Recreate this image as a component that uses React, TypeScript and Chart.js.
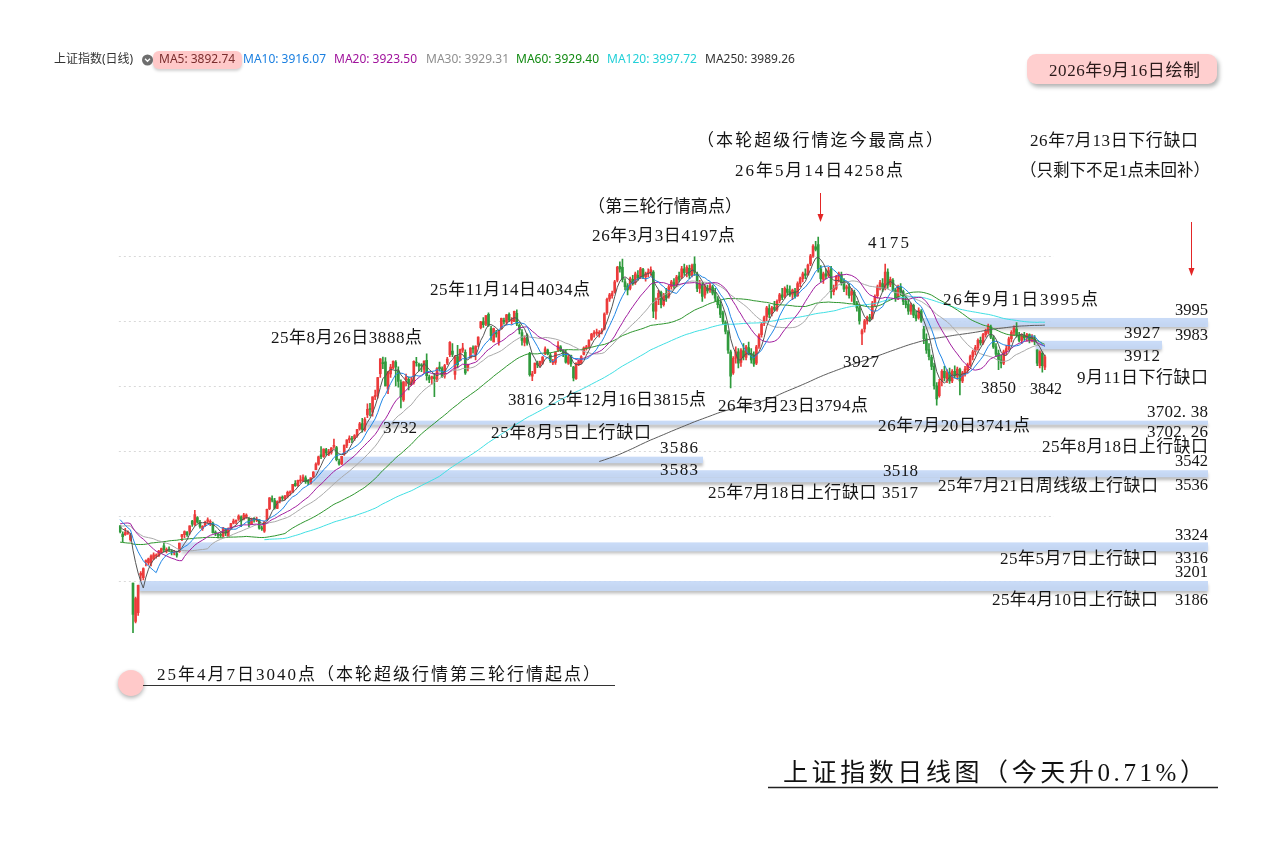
import { useEffect, useRef } from 'react';
import { Chart, registerables } from 'chart.js';
Chart.register(...registerables);

const W = 1273;
const H = 844;

// closes before the visible window (only used to warm up the moving averages)
const warmupCloses = [
  3368, 3352, 3393, 3394, 3398, 3400, 3407, 3352,
  3262, 3211, 3206, 3229, 3230, 3211, 3168, 3160, 3240, 3227, 3236, 3241, 3244, 3242, 3213, 3231, 3252, 3250,
  3229, 3270, 3303, 3322, 3318, 3346, 3333, 3346, 3355, 3324, 3351, 3350, 3379, 3373, 3346, 3380, 3388, 3320,
  3316, 3324, 3342, 3381, 3372, 3366, 3379, 3371, 3358, 3419, 3426, 3429, 3426, 3408, 3364, 3370, 3369, 3368, 3373,
];

// daily candles [open, high, low, close]
const m2503 = [[3369,3371,3348,3351.3],[3344,3351,3320,3335.8]];
const m2504 = [
  [3342,3362,3340,3348.4],[3346,3354,3343,3350.1],[3327,3346,3322,3342.0],[3193,3193,3040.7,3096.6],
  [3075,3150,3071,3145.5],[3102,3186.8,3094,3186.5],[3218,3229,3201,3223.6],[3210,3240,3203,3238.2],
  [3259,3265,3246,3262.8],[3255,3270,3249,3267.7],[3255,3280,3246,3276.0],[3268,3286,3265,3280.3],
  [3276,3283,3270,3276.7],[3277,3294,3275,3291.4],[3288,3301,3286,3299.8],[3308,3316,3290,3296.4],
  [3291,3302,3286,3297.3],[3296,3305,3290,3295.1],[3292,3296,3280,3288.4],[3286,3294,3280,3286.7],
  [3284,3292,3273,3279.0],
];
const m2505 = [
  [3290,3316.1,3288,3316.0],[3336,3343,3324,3342.7],[3342,3354,3333,3352.0],[3350,3352,3337,3342.0],
  [3352,3369.5,3344,3369.2],[3384,3386,3368,3374.9],[3372,3417,3371,3403.9],[3395,3398,3378,3380.8],
  [3380,3386,3362,3367.5],[3361,3370,3355,3367.6],[3371,3384,3368,3380.5],[3383,3394,3378,3387.6],
  [3380,3388,3370,3380.2],[3377,3381,3347,3348.4],[3347,3354,3339,3346.8],[3343,3347,3332,3340.7],
  [3341,3348,3334,3339.9],[3338,3365,3336,3363.5],[3358,3361,3339,3347.5],
];
const m2506 = [
  [3336,3363,3336,3361.9],[3362,3377,3360,3376.2],[3378,3390,3375,3384.1],[3383,3388,3375,3385.4],
  [3390,3403,3386,3399.8],[3397,3400,3367,3384.8],[3390,3408,3388,3402.3],[3396,3406,3392,3402.7],
  [3392,3395,3366,3377.0],[3374,3393,3374,3388.8],[3388,3395,3381,3387.4],[3387,3396,3382,3388.8],
  [3388,3389,3359,3362.1],[3362,3369,3355,3359.9],[3353,3384,3349,3381.6],[3388,3421,3388,3420.6],
  [3422,3456,3419,3455.9],[3453,3462,3443,3448.5],[3447,3454,3421,3424.2],[3423,3446,3422,3444.4],
];
const m2507 = [
  [3446,3458,3440,3457.8],[3455,3462,3448,3454.8],[3452,3463,3449,3461.2],[3460,3476,3455,3472.3],
  [3471,3477,3464,3473.1],[3473,3497.5,3472,3497.5],[3500,3509,3491,3493.1],[3494,3510,3491,3509.7],
  [3508,3524,3501,3510.2],[3507,3526,3505,3519.7],[3517,3523,3500,3505.0],[3504,3512,3496,3503.8],
  [3500,3517,3498,3516.8],[3520,3536,3518,3534.5],[3542,3563,3542,3559.8],[3559,3584,3556,3581.9],
  [3588,3613,3576,3582.3],[3583,3606,3580,3605.7],[3604,3608,3586,3593.7],[3590,3605,3585,3597.9],
  [3595,3610,3590,3609.7],[3614,3636,3608,3615.7],[3610,3614,3569,3573.2],
];
const m2508 = [
  [3567,3575,3556,3559.9],[3560,3583.5,3558,3583.3],[3590,3618,3586,3617.6],[3617,3634,3610,3633.9],
  [3634,3646,3625,3639.7],[3636,3645,3625,3635.1],[3638,3650,3632,3647.5],[3648,3666,3642,3665.9],
  [3668,3688,3664,3683.5],[3684,3700,3658,3666.4],[3665,3702.26,3661,3696.8],[3711,3745,3702.38,3728.0],
  [3728,3746,3708,3727.3],[3719,3766.5,3707,3766.2],[3767,3787,3758,3771.1],[3771,3826,3762,3825.8],
  [3838,3884,3826,3883.6],[3872,3888.6,3853,3868.4],[3874,3887,3800,3800.3],[3790,3845,3776,3843.6],
  [3837,3866,3826,3857.9],
];
const m2509 = [
  [3855,3877,3852,3875.5],[3873,3878,3800,3858.1],[3846,3859,3796,3813.6],[3810,3819,3732.4,3765.9],
  [3757,3813,3752,3812.5],[3819,3836,3800,3826.8],[3820,3828,3788,3807.3],[3804,3826,3801,3812.2],
  [3810,3877,3805,3875.3],[3871,3888,3861,3870.6],[3866,3870,3846,3860.5],[3863,3869,3844,3861.9],
  [3851,3877,3840,3876.3],[3879,3899,3818,3831.7],[3827,3833,3810,3820.1],[3823,3830,3805,3828.6],
  [3828,3839,3767,3822.0],[3817,3856,3813,3853.6],[3858,3873,3845,3853.3],[3853,3859,3826,3828.1],
  [3830,3866,3824,3862.5],[3870,3888,3865,3882.8],
];
const m2510 = [
  [3896,3936,3890,3933.9],[3907,3930,3890,3897.0],[3835,3893,3820,3889.5],[3890,3925,3855,3865.2],
  [3878,3913,3877,3912.2],[3910,3931,3903,3916.2],[3903,3911,3835,3839.8],[3856,3867,3846,3863.9],
  [3886,3918,3886,3916.3],[3915,3923,3901,3913.8],[3897,3923,3880,3922.4],[3928,3951,3920,3950.3],
  [3979,3999,3975,3996.9],[3998,4010,3980,3988.2],[3990,4016.5,3985,4016.3],[4020,4025,3983,3986.9],
  [3976,3983,3940,3954.8],
];
const m2511 = [
  [3935,3978,3935,3976.5],[3964,3971,3950,3960.2],[3935,3970,3925,3969.3],[3975,4009,3975,4007.8],
  [4002,4009,3990,3997.6],[3996,4020,3988,4018.6],[4020,4025,3998,4002.8],[4000,4010,3990,4000.1],
  [3998,4030,3998,4029.5],[4023,4034,3985,3990.5],[3986,3991,3960,3972.0],[3964,3973,3925,3939.8],
  [3934,3954,3923,3946.7],[3956,3960,3925,3931.0],[3900,3903,3830,3834.9],[3830,3845,3816,3836.8],
  [3840,3870.5,3838,3870.0],[3870,3876,3856,3864.2],[3864,3876,3858,3875.3],[3870,3890,3866,3888.6],
];
const m2512 = [
  [3900,3920,3896,3914.0],[3910,3913,3895,3897.7],[3895,3900,3872,3878.0],[3871,3882,3865,3875.8],
  [3872,3905,3866,3902.8],[3912,3936,3905,3924.1],[3920,3924,3905,3909.5],[3910,3911,3890,3900.5],
  [3902,3910,3870,3873.3],[3870,3895,3866,3889.4],[3894,3895,3860,3867.9],[3858,3860,3815,3824.8],
  [3822,3871,3820,3870.3],[3866,3880,3862,3876.4],[3870,3893,3868,3890.5],[3897,3920,3895,3917.4],
  [3915,3925,3910,3919.9],[3920,3942,3915,3940.9],[3943,3962,3940,3959.6],[3960,3970,3950,3963.7],
  [3962,3975,3955,3965.3],[3960,3970,3950,3965.1],[3966,3976,3960,3968.8],
];
const m2601 = [
  [3975,4025,3972,4022],[4025,4070,4020,4066],[4068,4085,4060,4080],[4078,4092,4070,4085],
  [4088,4125,4085,4120],[4125,4168,4120,4165],[4168,4182,4150,4160],[4165,4190,4120,4128],
  [4120,4130,4095,4105],[4108,4115,4080,4095],[4100,4135,4095,4130],[4128,4140,4110,4115],
  [4118,4150,4112,4145],[4140,4155,4125,4132],[4135,4165,4130,4160],[4158,4162,4130,4138],
  [4135,4150,4122,4145],[4145,4160,4135,4150],[4150,4166,4140,4158],[4150,4155,4010,4030],
];
const m2602 = [
  [4030,4070,4005,4060],[4065,4095,4050,4085],[4088,4092,4040,4050],[4050,4085,4045,4080],
  [4085,4100,4060,4070],[4075,4110,4070,4105],[4105,4125,4098,4120],[4118,4130,4100,4110],
  [4110,4140,4105,4135],[4138,4150,4120,4128],[4135,4168,4130,4160],[4160,4175,4140,4148],
  [4150,4170,4135,4165],[4162,4172,4130,4140],
];
const m2603 = [
  [4140,4175,4135,4170],[4175,4197,4140,4150],[4145,4150,4090,4100],[4100,4125,4085,4115],
  [4110,4118,4060,4075],[4080,4112,4070,4105],[4100,4110,4085,4092],[4095,4115,4088,4108],
  [4105,4110,4080,4085],[4088,4100,4060,4070],[4068,4075,4040,4050],[4050,4060,4010,4020],
  [4025,4030,3990,3998],[3995,4000,3960,3968],[3965,3970,3900,3910],[3905,3910,3794,3830],
  [3840,3890,3835,3885],[3885,3920,3870,3905],[3905,3915,3855,3870],[3872,3915,3860,3910],
  [3908,3930,3880,3890],[3888,3925,3880,3920],
];
const m2604 = [
  [3918,3935,3895,3900],[3900,3915,3870,3880],[3895,3905,3860,3868],[3870,3925,3865,3920],
  [3922,3960,3915,3955],[3958,3995,3950,3990],[3992,4015,3985,4010],[4012,4045,4000,4040],
  [4038,4050,4010,4020],[4022,4045,4015,4040],[4042,4060,4030,4035],[4035,4065,4030,4060],
  [4062,4085,4055,4080],[4080,4100,4065,4072],[4075,4105,4070,4100],[4098,4110,4080,4088],
  [4090,4108,4075,4080],[4082,4098,4065,4095],[4092,4100,4070,4075],[4078,4120,4075,4115],
  [4115,4135,4105,4130],
];
const m2605 = [
  [4130,4150,4120,4145],[4145,4160,4130,4140],[4142,4175,4140,4172],[4175,4205,4170,4200],
  [4200,4235,4195,4230],[4228,4245,4215,4220],[4235,4258,4150,4160],[4160,4170,4120,4130],
  [4128,4150,4115,4145],[4145,4160,4130,4138],[4140,4165,4135,4155],[4160,4168,4070,4090],
  [4090,4110,4080,4100],[4100,4140,4095,4135],[4135,4150,4120,4145],[4142,4150,4110,4118],
  [4120,4130,4090,4098],[4100,4110,4080,4105],
];
const m2606 = [
  [4105,4115,4070,4078],[4080,4100,4060,4090],[4088,4095,4050,4055],[4055,4060,4030,4040],
  [4040,4045,3990,4000],[3960,3975,3927,3970],[3975,4005,3965,4000],[4000,4015,3990,4010],
  [4012,4020,4000,4005],[4008,4060,4005,4055],[4055,4080,4045,4075],[4078,4110,4070,4105],
  [4105,4125,4095,4118],[4115,4130,4090,4100],[4100,4175,4095,4150],[4150,4160,4100,4110],
  [4112,4135,4105,4128],[4125,4130,4090,4095],[4095,4100,4060,4070],[4070,4110,4065,4105],
  [4105,4115,4080,4088],
];
const m2607 = [
  [4090,4095,4050,4060],[4060,4075,4040,4050],[4052,4065,4020,4030],[4030,4055,4020,4048],
  [4048,4052,4010,4018],[4018,4030,4000,4008],[4010,4040,4005,4032],[4030,4035,3995.2,4000],
  [3975,3983,3930,3945],[3945,3960,3900,3910],[3912,3930,3880,3890],[3888,3895,3850,3860],
  [3860,3870,3790,3800],[3800,3810,3741,3760],[3770,3820,3765,3812],[3812,3850,3800,3845],
  [3845,3860,3815,3825],[3822,3850,3810,3840],[3840,3855,3808,3815],[3815,3850,3810,3845],
  [3845,3862,3825,3832],[3830,3858,3820,3852],[3850,3855,3772,3815],
];
const m2608 = [
  [3815,3845,3810,3840],[3838,3860,3830,3852],[3850,3870,3840,3865],[3865,3895,3860,3890],
  [3890,3910,3880,3905],[3905,3925,3895,3918],[3918,3945,3910,3940],[3940,3950,3925,3932],
  [3932,3962,3928,3958],[3958,3975,3950,3968],[3965,3990,3960,3985],[3982,3987,3945,3950],
  [3948,3955,3915,3920],[3920,3930,3890,3898],[3900,3910,3850,3880],[3880,3895,3855,3870],
  [3870,3910,3865,3905],[3905,3925,3895,3915],[3915,3950,3910,3945],[3945,3970,3935,3965],
  [3965,3985,3955,3978],
];
const m2609 = [
  [3975,3994.5,3950,3958],[3955,3965,3935,3940],[3940,3960,3930,3955],[3955,3965,3940,3948],
  [3948,3962,3938,3958],[3958,3960,3932,3940],[3940,3958,3935,3950],[3945,3955,3927,3935],
  [3910,3912,3862,3870],[3862,3908,3855,3905],[3900,3905,3842,3862],[3858,3895,3850,3889.4],
];

const monthBlocks = [m2503, m2504, m2505, m2506, m2507, m2508, m2509, m2510, m2511, m2512,
  m2601, m2602, m2603, m2604, m2605, m2606, m2607, m2608, m2609];

// moving averages shown
const maPeriods = [5, 10, 20, 30, 60, 120, 250];
const maNames = ['MA5', 'MA10', 'MA20', 'MA30', 'MA60', 'MA120', 'MA250'];
const maLegendValues = ['3892.74', '3916.07', '3923.50', '3929.31', '3929.40', '3997.72', '3989.26'];

// price gaps: low edge, high edge, index (in visible candles) of the gap day
const gapLow = [3983, 3912, 3702.26, 3583, 3536, 3517, 3316, 3186];
const gapHigh = [3995, 3927, 3702.38, 3586, 3542, 3518, 3324, 3201];
const gapStart = [312, 356, 96, 87, 76, 75, 24, 8];

const gridValues = [3200, 3400, 3600, 3800, 4000, 4200];
const extraSlots = 3;

// ---- styles / layout (not data) ----
const UP = '#ec3b3b';
const DOWN = '#2f9a3c';
const maColors = ['#555555', '#1f86e6', '#a21ea0', '#a9a9a9', '#2e962e', '#40e0e4', '#5c5c5c'];
const maLegendColors = ['#7a2d2d', '#1a7fe0', '#a0129c', '#8e8e8e', '#128a12', '#22d0d8', '#333333'];
const legendX = [159, 243, 334, 426, 516, 607, 705];
const bandEndX = [1208, 1162, 1208, 703, 1208, 940, 1208, 1208];
const bandThick = [9, 8.5, 4, 6.5, 7, 5, 9, 10];
const bandShift = [-2, -2, 5, 4, 3, 2, 5, 3];

const notes: [string, number, number, number][] = [
  ['（本轮超级行情迄今最高点）', 697, 943, 142],
  ['26年5月14日4258点', 735, 903, 172],
  ['（第三轮行情高点）', 588, 742, 208],
  ['26年3月3日4197点', 592, 735, 237],
  ['4175', 868, 909, 244],
  ['25年11月14日4034点', 430, 590, 291],
  ['25年8月26日3888点', 271, 422, 339],
  ['3732', 383, 417, 429],
  ['3816', 508, 543, 401],
  ['25年12月16日3815点', 548, 706, 401],
  ['26年3月23日3794点', 718, 868, 407],
  ['3927', 843, 879, 363],
  ['26年9月1日3995点', 943, 1098, 301],
  ['26年7月13日下行缺口', 1030, 1198, 142],
  ['（只剩下不足1点未回补）', 1020, 1210, 172],
  ['3995', 1175, 1208, 311],
  ['3983', 1175, 1208, 336],
  ['3927', 1124, 1160, 334],
  ['3912', 1124, 1160, 357],
  ['9月11日下行缺口', 1077, 1208, 379],
  ['3850', 981, 1016, 389],
  ['3842', 1030, 1062, 390],
  ['26年7月20日3741点', 878, 1030, 427],
  ['3702. 38', 1147, 1208, 413],
  ['3702. 26', 1147, 1208, 433],
  ['25年8月5日上行缺口', 491, 651, 434],
  ['3586', 660, 698, 449],
  ['3583', 660, 698, 471],
  ['25年8月18日上行缺口', 1042, 1208, 448],
  ['3542', 1175, 1208, 462],
  ['3536', 1175, 1208, 486],
  ['3518', 883, 918, 472],
  ['25年7月18日上行缺口 3517', 708, 918, 494],
  ['25年7月21日周线级上行缺口', 938, 1158, 487],
  ['3324', 1175, 1208, 536],
  ['3316', 1175, 1208, 559],
  ['25年5月7日上行缺口', 1000, 1158, 560],
  ['3201', 1175, 1208, 573],
  ['3186', 1175, 1208, 601],
  ['25年4月10日上行缺口', 992, 1158, 601],
];

const SERIF = '"Liberation Serif", "Noto Sans CJK SC", serif';
const SANS = '"Noto Sans", "Noto Sans CJK SC", sans-serif';

function fitText(ctx: any, text: string, left: number, right: number, cy: number, size: number, color = '#151515') {
  ctx.save();
  ctx.font = `${size}px ${SERIF}`;
  ctx.fillStyle = color;
  ctx.textBaseline = 'middle';
  ctx.textAlign = 'left';
  ctx.letterSpacing = '0px';
  const target = right - left;
  const nat = ctx.measureText(text).width;
  const n = Array.from(text).length;
  if (nat < target && n > 1) {
    const ls = Math.min(8, (target - nat) / (n - 1));
    ctx.letterSpacing = ls + 'px';
    ctx.fillText(text, left, cy);
  } else {
    ctx.fillText(text, left, cy, target);
  }
  ctx.restore();
}

function arrow(ctx: any, x: number, y1: number, y2: number) {
  ctx.save();
  ctx.strokeStyle = '#e32626';
  ctx.fillStyle = '#e32626';
  ctx.lineWidth = 1;
  ctx.beginPath();
  ctx.moveTo(x, y1);
  ctx.lineTo(x, y2 - 6);
  ctx.stroke();
  ctx.beginPath();
  ctx.moveTo(x - 3, y2 - 8);
  ctx.lineTo(x + 3, y2 - 8);
  ctx.lineTo(x, y2);
  ctx.closePath();
  ctx.fill();
  ctx.restore();
}

const overlay = {
  id: 'overlay',
  beforeDraw(chart: any) {
    const ctx = chart.ctx;
    ctx.save();
    ctx.fillStyle = '#ffffff';
    ctx.fillRect(0, 0, chart.width, chart.height);
    ctx.restore();
  },
  beforeDatasetsDraw(chart: any) {
    const ctx = chart.ctx;
    const xs = chart.scales.x;
    const ys = chart.scales.y;
    const area = chart.chartArea;
    ctx.save();
    ctx.strokeStyle = '#d9d9d9';
    ctx.lineWidth = 1;
    ctx.setLineDash([2, 3]);
    gridValues.forEach((v) => {
      const y = Math.round(ys.getPixelForValue(v)) + 0.5;
      ctx.beginPath();
      ctx.moveTo(area.left, y);
      ctx.lineTo(area.right, y);
      ctx.stroke();
    });
    ctx.restore();
    const slot = xs.getPixelForValue(1) - xs.getPixelForValue(0);
    gapLow.forEach((lo, k) => {
      const mid = (lo + gapHigh[k]) / 2;
      const cy = ys.getPixelForValue(mid) + bandShift[k];
      const x0 = xs.getPixelForValue(gapStart[k]) - slot / 2;
      const t = bandThick[k];
      ctx.save();
      ctx.shadowColor = 'rgba(0,0,0,0.28)';
      ctx.shadowBlur = 3;
      ctx.shadowOffsetY = 3;
      ctx.fillStyle = 'rgba(196,216,246,0.92)';
      ctx.fillRect(x0, cy - t / 2, bandEndX[k] - x0, t);
      ctx.restore();
    });
  },
  afterDraw(chart: any) {
    const ctx = chart.ctx;
    // legend row
    ctx.save();
    ctx.textBaseline = 'middle';
    ctx.font = `12px ${SANS}`;
    ctx.fillStyle = '#333';
    ctx.fillText('上证指数(日线)', 54, 60);
    ctx.fillStyle = '#6e6e6e';
    ctx.beginPath();
    ctx.arc(147.5, 60, 5.5, 0, Math.PI * 2);
    ctx.fill();
    ctx.strokeStyle = '#fff';
    ctx.lineWidth = 1.3;
    ctx.beginPath();
    ctx.moveTo(145, 58.8);
    ctx.lineTo(147.5, 61.3);
    ctx.lineTo(150, 58.8);
    ctx.stroke();
    ctx.save();
    ctx.shadowColor = 'rgba(0,0,0,0.18)';
    ctx.shadowBlur = 3;
    ctx.shadowOffsetY = 2;
    ctx.fillStyle = '#ffc9c9';
    ctx.beginPath();
    ctx.roundRect(153, 51, 89, 18, 6);
    ctx.fill();
    ctx.restore();
    maNames.forEach((nm, k) => {
      ctx.fillStyle = maLegendColors[k];
      ctx.fillText(`${nm}: ${maLegendValues[k]}`, legendX[k], 60);
    });
    ctx.restore();

    // date box
    ctx.save();
    ctx.shadowColor = 'rgba(0,0,0,0.3)';
    ctx.shadowBlur = 4;
    ctx.shadowOffsetX = 2;
    ctx.shadowOffsetY = 3;
    ctx.fillStyle = '#ffcfcf';
    ctx.beginPath();
    ctx.roundRect(1027, 54, 190, 30, 9);
    ctx.fill();
    ctx.restore();
    fitText(ctx, '2026年9月16日绘制', 1049, 1200, 72, 17, '#2a1a1a');

    // annotations
    notes.forEach(([t, l, r, cy]) => fitText(ctx, t, l, r, cy, 17));
    arrow(ctx, 820.5, 193, 222);
    arrow(ctx, 1191.5, 222, 276);

    // bottom-left label
    ctx.save();
    ctx.shadowColor = 'rgba(0,0,0,0.3)';
    ctx.shadowBlur = 4;
    ctx.shadowOffsetY = 2;
    ctx.fillStyle = '#ffc9c9';
    ctx.beginPath();
    ctx.arc(131, 683, 13, 0, Math.PI * 2);
    ctx.fill();
    ctx.restore();
    fitText(ctx, '25年4月7日3040点（本轮超级行情第三轮行情起点）', 157, 600, 676, 17);
    ctx.save();
    ctx.strokeStyle = '#333';
    ctx.lineWidth = 1;
    ctx.beginPath();
    ctx.moveTo(143, 685.5);
    ctx.lineTo(615, 685.5);
    ctx.stroke();
    ctx.restore();

    // title
    fitText(ctx, '上证指数日线图（今天升0.71%）', 783, 1205, 774, 25, '#111');
    ctx.save();
    ctx.strokeStyle = '#222';
    ctx.lineWidth = 1.5;
    ctx.beginPath();
    ctx.moveTo(768, 787.5);
    ctx.lineTo(1218, 787.5);
    ctx.stroke();
    ctx.restore();
  },
};

export default function App() {
  const ref = useRef<HTMLCanvasElement | null>(null);
  useEffect(() => {
    const candles = monthBlocks.flat();
    const opens = candles.map((d) => d[0]);
    const highs = candles.map((d) => d[1]);
    const lows = candles.map((d) => d[2]);
    const closes = candles.map((d) => d[3]);
    const n = closes.length;
    const labels = Array.from({ length: n + extraSlots }, (_, i) => String(i));
    const colors = closes.map((c, i) => (c >= opens[i] ? UP : DOWN));
    const full = warmupCloses.concat(closes);
    const w = warmupCloses.length;
    const maData = maPeriods.map((p) =>
      closes.map((_, i) => {
        const end = i + w;
        if (end - p + 1 < 0) return null;
        let s = 0;
        for (let j = end - p + 1; j <= end; j++) s += full[j];
        return s / p;
      })
    );

    const yMin = 2900;
    const yMax = 4400;
    const pxPerPt = 0.325;
    const top = 320.9 - (yMax - 4000) * pxPerPt;
    const bottom = top + (yMax - yMin) * pxPerPt;
    const slot = 2.576;
    const left = 133 - 5 * slot - slot / 2;
    const right = left + (n + extraSlots) * slot;

    const datasets: any[] = [
      {
        type: 'bar', label: 'wick', data: lows.map((l, i) => [l, highs[i]]),
        backgroundColor: colors, barThickness: 1, grouped: false, order: 3,
      },
      {
        type: 'bar', label: 'body', data: opens.map((o, i) => [o, closes[i]]),
        backgroundColor: colors, barThickness: 2, grouped: false, order: 2, minBarLength: 1,
      },
      ...maData.map((d, k) => ({
        type: 'line', label: maNames[k], data: d, borderColor: maColors[k], borderWidth: 1,
        pointRadius: 0, fill: false, tension: 0, order: 1, spanGaps: false,
      })),
    ];

    const chart = new Chart(ref.current as HTMLCanvasElement, {
      type: 'bar',
      data: { labels, datasets },
      options: {
        responsive: false,
        animation: false,
        events: [],
        layout: { padding: { left, right: W - right, top, bottom: H - bottom } },
        plugins: { legend: { display: false }, tooltip: { enabled: false } },
        scales: {
          x: { display: false, offset: true },
          y: { display: false, min: yMin, max: yMax },
        },
      } as any,
      plugins: [overlay as any],
    });
    return () => chart.destroy();
  }, []);
  return (
    <div style={{ position: 'absolute', left: 0, top: 0, width: W, height: H, background: '#fff' }}>
      <canvas ref={ref} width={W} height={H} style={{ display: 'block', width: W, height: H }} />
    </div>
  );
}
